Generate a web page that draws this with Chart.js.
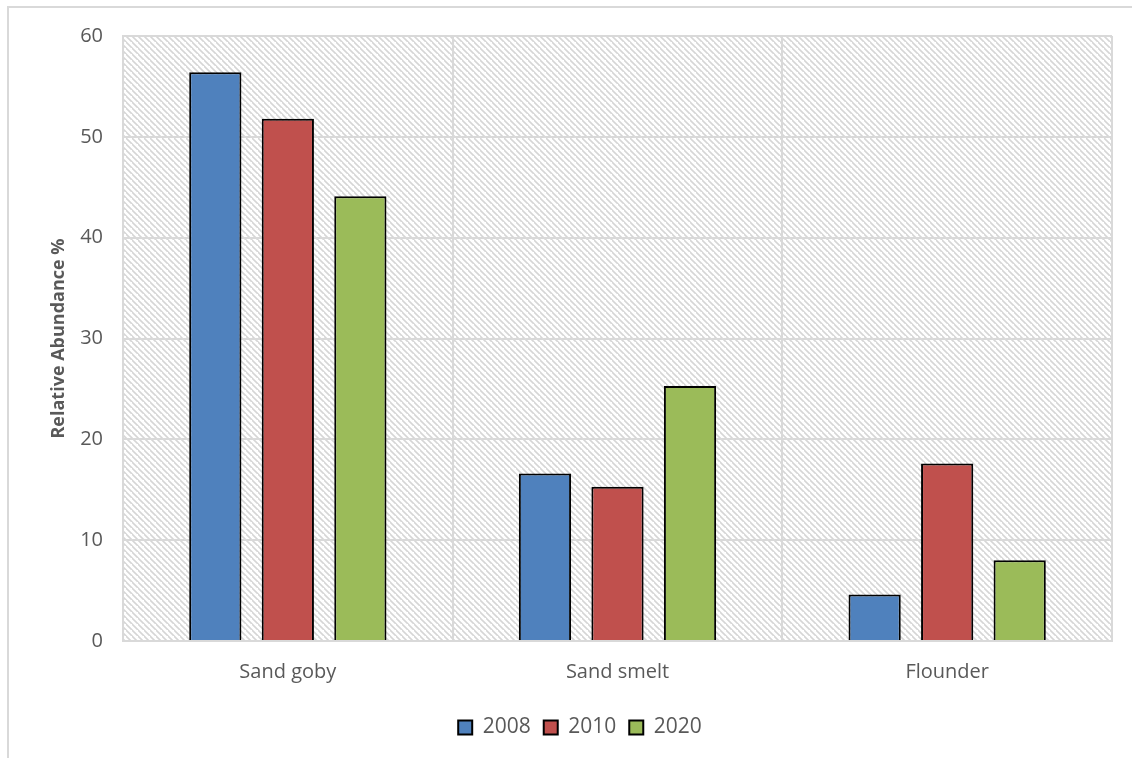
<!DOCTYPE html>
<html>
<head>
<meta charset="utf-8">
<script src="https://cdn.jsdelivr.net/npm/chart.js@4/dist/chart.umd.min.js"></script>
<style>
  html, body { margin: 0; padding: 0; background: #ffffff; }
  #wrap { width: 1132px; height: 758px; position: relative; }
</style>
</head>
<body>
<div id="wrap"><canvas id="c" width="1132" height="758"></canvas></div>
<script>
// Species and yearly relative abundance (%)
const categories = ['Sand goby', 'Sand smelt', 'Flounder'];
const years = ['2008', '2010', '2020'];
const values2008 = [56.4, 16.6, 4.6];
const values2010 = [51.8, 15.3, 17.6];
const values2020 = [44.1, 25.3, 8.0];
const yTicks = [0, 10, 20, 30, 40, 50, 60];

const colors = ['#4f81bd', '#c0504d', '#9bbb59'];
const textGray = '#595959';
const gridGray = '#d9d9d9';
const fontFamily = '"Open Sans", Lato, "Liberation Sans", sans-serif';

// Diagonal hatch used behind the bars
function makeHatch() {
  const size = 6;
  const p = document.createElement('canvas');
  p.width = size; p.height = size;
  const g = p.getContext('2d');
  g.fillStyle = '#ffffff';
  g.fillRect(0, 0, size, size);
  g.strokeStyle = '#d6d6d6';
  g.lineWidth = 1.6;
  g.beginPath();
  g.moveTo(-1, -1); g.lineTo(size + 1, size + 1);
  g.moveTo(-size - 1, -1); g.lineTo(1, size + 1);
  g.moveTo(size - 1, -size - 1); g.lineTo(2 * size + 1, 1);
  g.stroke();
  return g.createPattern(p, 'repeat');
}

const backdrop = {
  id: 'backdrop',
  afterLayout(chart) {
    // the legend sits centred on the full chart frame, slightly right of the canvas centre
    chart.legend.left += 24;
    chart.legend.right += 24;
  },
  beforeDraw(chart) {
    const { ctx, chartArea: a } = chart;
    ctx.save();
    ctx.fillStyle = makeHatch();
    ctx.fillRect(a.left, a.top, a.right - a.left, a.bottom - a.top);
    // outer frame of the chart
    ctx.strokeStyle = gridGray;
    ctx.lineWidth = 2;
    ctx.beginPath();
    ctx.moveTo(8, 758);
    ctx.lineTo(8, 7);
    ctx.lineTo(1132, 7);
    ctx.stroke();
    ctx.restore();
  }
};

const datasets = [values2008, values2010, values2020].map((vals, i) => ({
  label: years[i],
  data: vals,
  backgroundColor: colors[i],
  borderColor: '#000000',
  borderWidth: 2,
  borderSkipped: 'bottom',
  categoryPercentage: 0.66,
  barPercentage: 0.72
}));

new Chart(document.getElementById('c'), {
  type: 'bar',
  data: { labels: categories, datasets },
  plugins: [backdrop],
  options: {
    responsive: false,
    animation: false,
    layout: { padding: { top: 36, right: 20, left: 0, bottom: 10 } },
    plugins: {
      tooltip: { enabled: false },
      legend: {
        position: 'bottom',
        labels: {
          color: textGray,
          font: { family: fontFamily, size: 21 },
          boxWidth: 14,
          boxHeight: 14,
          padding: 13,
          generateLabels(chart) {
            return chart.data.datasets.map((d, i) => ({
              text: d.label,
              fillStyle: d.backgroundColor,
              strokeStyle: '#000000',
              lineWidth: 2,
              fontColor: textGray,
              datasetIndex: i
            }));
          }
        }
      }
    },
    scales: {
      x: {
        grid: { color: gridGray, lineWidth: 2, drawTicks: false, offset: true },
        border: { color: gridGray, width: 2 },
        ticks: { color: textGray, font: { family: fontFamily, size: 20 }, padding: 19 },
        afterFit(s) { s.height = 63; }
      },
      y: {
        min: 0,
        max: 60,
        afterBuildTicks(s) { s.ticks = yTicks.map(v => ({ value: v })); },
        grid: { color: gridGray, lineWidth: 2, drawTicks: false },
        border: { color: gridGray, width: 2 },
        ticks: { color: textGray, font: { family: fontFamily, size: 20 }, padding: 20 },
        title: {
          display: true,
          text: 'Relative Abundance %',
          color: textGray,
          font: { family: fontFamily, size: 18, weight: 'bold' },
          padding: { top: 48, bottom: 0 }
        },
        afterFit(s) { s.width = 123; }
      }
    }
  }
});
</script>
</body>
</html>
